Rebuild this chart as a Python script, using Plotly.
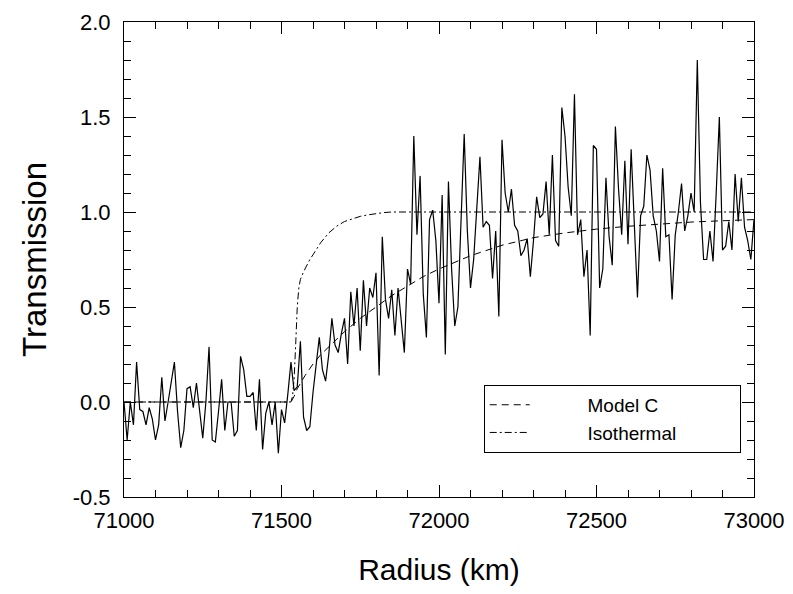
import plotly.graph_objects as go

# Observed transmission, sampled every 10 km from 71000 km to 73000 km
r_start = 71000
r_step = 10
transmission = [
    0.0, -0.2, 0.0, -0.12, 0.21, -0.04, -0.05, -0.12, -0.03, -0.09,
    -0.2, -0.12, 0.13, -0.1, 0.0, 0.1, 0.21, -0.05, -0.24, -0.15,
    0.07, 0.08, -0.03, 0.1, -0.05, -0.19, 0.0, 0.29, -0.2, -0.21,
    -0.05, 0.12, -0.15, 0.0, 0.0, -0.18, -0.15, 0.24, 0.17, 0.03,
    0.03, 0.05, -0.15, 0.12, -0.25, -0.06, 0.0, -0.12, 0.0, -0.27,
    -0.04, -0.11, 0.04, 0.21, 0.06, 0.08, 0.32, -0.08, -0.15, -0.13,
    0.05, 0.2, 0.34, 0.17, 0.11, 0.25, 0.44, 0.3, 0.26, 0.36,
    0.44, 0.2, 0.58, 0.4, 0.6, 0.27, 0.64, 0.4, 0.6, 0.55,
    0.68, 0.14, 0.87, 0.54, 0.44, 0.59, 0.35, 0.6, 0.43, 0.26,
    0.7, 0.62, 1.40, 0.88, 1.19, 0.57, 0.34, 0.96, 1.01, 0.85,
    0.52, 1.09, 0.25, 1.16, 0.7, 0.4, 0.5, 0.95, 1.41, 0.9,
    0.6, 0.75, 1.05, 1.29, 0.92, 0.95, 0.93, 0.65, 0.9, 0.45,
    1.38, 1.1, 1.0, 1.12, 0.93, 0.9, 0.77, 0.8, 0.86, 0.66,
    0.85, 1.08, 0.97, 0.99, 1.16, 0.88, 1.3, 0.85, 0.82, 1.55,
    1.4, 1.13, 0.98, 1.62, 0.88, 0.96, 0.66, 0.8, 0.35, 1.35,
    1.33, 0.6, 0.7, 1.18, 0.87, 0.72, 1.45, 1.12, 0.88, 1.27,
    0.83, 1.33, 0.94, 0.55, 0.98, 1.03, 1.3, 1.22, 0.98, 0.9,
    0.74, 1.23, 0.87, 0.88, 0.54, 0.88, 1.0, 1.15, 0.9, 0.98,
    1.1, 1.0, 1.8, 1.05, 0.75, 0.75, 0.9, 0.74, 1.1, 1.5,
    0.8, 0.82, 0.95, 0.8, 1.2, 0.95, 1.18, 0.92, 0.85, 0.75, 0.96,
]
radius = [r_start + r_step * i for i in range(len(transmission))]

# Model C (dashed)
modelc_r = [71000, 71530, 71540, 71550, 71575, 71600, 71625, 71650, 71700,
            71750, 71800, 71850, 71900, 71950, 72000, 72100, 72200, 72300,
            72400, 72500, 72600, 72700, 72800, 72900, 73000]
modelc_t = [0.0, 0.0, 0.03, 0.07, 0.14, 0.2, 0.25, 0.29, 0.37,
            0.44, 0.5, 0.56, 0.61, 0.66, 0.7, 0.77, 0.825, 0.865,
            0.89, 0.91, 0.925, 0.937, 0.947, 0.954, 0.96]

# Isothermal (dash-dot)
iso_r = [71000, 71530, 71535, 71540, 71545, 71550, 71555, 71560, 71570,
         71580, 71590, 71600, 71625, 71650, 71675, 71700, 71725, 71750,
         71775, 71800, 71825, 71850, 73000]
iso_t = [0.0, 0.0, 0.03, 0.12, 0.3, 0.5, 0.6, 0.645, 0.685,
         0.72, 0.75, 0.775, 0.84, 0.89, 0.925, 0.95, 0.965, 0.977,
         0.985, 0.992, 0.997, 1.0, 1.0]

x_ticks = [71000, 71500, 72000, 72500, 73000]
y_ticks = [-0.5, 0.0, 0.5, 1.0, 1.5, 2.0]
y_labels = ["-0.5", "0.0", "0.5", "1.0", "1.5", "2.0"]

FONT = "Liberation Sans, Arial, Helvetica, sans-serif"
NB = "\u00a0"

fig = go.Figure()
fig.add_trace(go.Scatter(x=radius, y=transmission, mode="lines",
                         line=dict(color="black", width=1.2),
                         showlegend=False))
fig.add_trace(go.Scatter(x=modelc_r, y=modelc_t, mode="lines",
                         line=dict(color="black", width=1, dash="7px,5px"),
                         name=NB * 10 + "Model C" + NB * 11))
fig.add_trace(go.Scatter(x=iso_r, y=iso_t, mode="lines",
                         line=dict(color="black", width=1, dash="7px,3px,2px,3px"),
                         name=NB * 10 + "Isothermal" + NB * 11))

axis_common = dict(
    showline=True, linecolor="black", linewidth=1, mirror="ticks",
    ticks="inside", ticklen=12, tickcolor="black", tickwidth=1,
    showgrid=False, zeroline=False, ticklabeloverflow="allow",
    tickfont=dict(family=FONT, size=22, color="black"),
)

fig.update_xaxes(
    range=[71000, 73000], tickvals=x_ticks, ticktext=[str(v) for v in x_ticks],
    minor=dict(ticks="inside", ticklen=7, dtick=100, tickcolor="black", showgrid=False),
    title=dict(text="Radius (km)", font=dict(family=FONT, size=30, color="black"), standoff=34),
    ticklabelstandoff=4, automargin=False,
    **axis_common,
)
fig.update_yaxes(
    range=[-0.5, 2.0], tickvals=y_ticks, ticktext=y_labels,
    minor=dict(ticks="inside", ticklen=7, dtick=0.1, tickcolor="black", showgrid=False),
    title=dict(text="Transmission", font=dict(family=FONT, size=33, color="black"), standoff=16),
    ticklabelstandoff=8, automargin=False,
    **axis_common,
)

fig.update_layout(
    width=777, height=578,
    margin=dict(l=116, r=31, t=14, b=89),
    paper_bgcolor="white", plot_bgcolor="white",
    font=dict(family=FONT, color="black"),
    legend=dict(x=0.571, y=0.236, xanchor="left", yanchor="top",
                bgcolor="white", bordercolor="black", borderwidth=1,
                font=dict(family=FONT, size=19, color="black"),
                tracegroupgap=0, itemwidth=40),
)

fig.write_html("out.html")
